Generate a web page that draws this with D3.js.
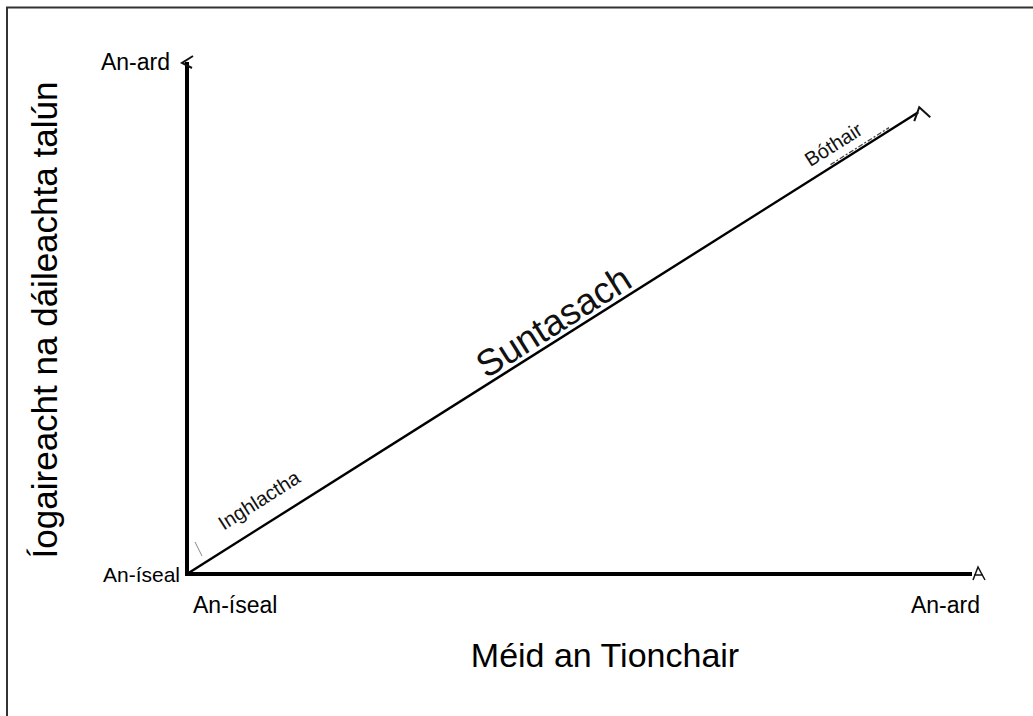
<!DOCTYPE html>
<html>
<head>
<meta charset="utf-8">
<script src="https://cdn.jsdelivr.net/npm/d3@7"></script>
<style>
  body { margin: 0; background: #fff; }
  svg { font-family: "Liberation Sans", Arial, sans-serif; }
</style>
</head>
<body>
<svg id="chart" width="1033" height="716"></svg>
<script>
// values of the sketch, in unit space (0 = An-íseal, 1 = An-ard)
const levelLabels = ["An-íseal", "An-ard"];
const trendLine = [[0, 0], [0.928, 0.902]];
const zoneLabels = ["Inghlactha", "Suntasach", "Bóthair"];
const zonePos = [0.116, 0.514, 0.897];   // share of the way along the trend line
const scribble = [0.88, 0.96];           // dashed pencil mark on the line
const xTitle = "Méid an Tionchair";
const yTitle = "Íogaireacht na dáileachta talún";

const svg = d3.select("#chart");
const x = d3.scaleLinear().domain([0, 1]).range([187, 975]);
const y = d3.scaleLinear().domain([0, 1]).range([574, 62]);

// frame (only top and left show in the picture)
svg.append("path")
    .attr("d", "M7,1000 V7.5 H1040")
    .attr("fill", "none").attr("stroke", "#333").attr("stroke-width", 2);

// axes
const g = svg.append("g");
g.append("line")
    .attr("x1", x(0)).attr("x2", x(0))
    .attr("y1", y(0) + 2).attr("y2", y(1))
    .attr("stroke", "#000").attr("stroke-width", 4);
g.append("line")
    .attr("x1", x(0) - 2).attr("x2", x(1) - 3)
    .attr("y1", y(0)).attr("y2", y(0))
    .attr("stroke", "#000").attr("stroke-width", 4);

// little hand-drawn arrowheads
g.append("path")
    .attr("d", `M${x(0) + 6},${y(1) - 6} L${x(0) - 5},${y(1) + 1} L${x(0) + 5},${y(1) + 6}`)
    .attr("fill", "none").attr("stroke", "#111").attr("stroke-width", 2);
g.append("path")
    .attr("d", `M${x(1) - 2},${y(0) + 6} L${x(1) + 3},${y(0) - 7} L${x(1) + 10},${y(0) + 6} M${x(1) - 1},${y(0) + 1} H${x(1) + 8}`)
    .attr("fill", "none").attr("stroke", "#111").attr("stroke-width", 1.5);

// trend line
const line = d3.line().x(d => x(d[0])).y(d => y(d[1]));
const at = t => [trendLine[1][0] * t, trendLine[1][1] * t];
g.append("path")
    .attr("d", line(trendLine))
    .attr("fill", "none").attr("stroke", "#000").attr("stroke-width", 2.4);
const end = trendLine[1];
g.append("path")
    .attr("d", `M${x(end[0]) - 4},${y(end[1]) + 9} L${x(end[0]) + 1},${y(end[1]) - 5} L${x(end[0]) + 12},${y(end[1]) + 5}`)
    .attr("fill", "none").attr("stroke", "#111").attr("stroke-width", 2);

// grey scribbles
g.append("line")
    .attr("x1", 195).attr("y1", 542).attr("x2", 202).attr("y2", 556)
    .attr("stroke", "#888").attr("stroke-width", 1);
g.append("path")
    .attr("d", line(scribble.map(at)))
    .attr("transform", "translate(0,-3)")
    .attr("fill", "none").attr("stroke", "#444").attr("stroke-width", 1.3)
    .attr("stroke-dasharray", "5,2,2,2");

// angle of the trend line on screen
const ang = Math.atan2(y(end[1]) - y(0), x(end[0]) - x(0)) * 180 / Math.PI;
const offsets = [17, 5, 11];
const sizes = [20, 37, 20];
zoneLabels.forEach((t, i) => {
    const p = at(zonePos[i]);
    g.append("text")
        .attr("transform", `translate(${x(p[0])},${y(p[1])}) rotate(${ang}) translate(0,${-offsets[i]})`)
        .attr("text-anchor", "middle")
        .attr("font-size", sizes[i])
        .attr("fill", "#111")
        .text(t);
});

// level labels
g.append("text").attr("x", x(0) - 17).attr("y", y(1) + 8)
    .attr("text-anchor", "end").attr("font-size", 23).text(levelLabels[1]);
g.append("text").attr("x", x(0) - 7).attr("y", y(0) + 8)
    .attr("text-anchor", "end").attr("font-size", 21).text(levelLabels[0]);
g.append("text").attr("x", x(0) + 6).attr("y", y(0) + 39)
    .attr("font-size", 23).text(levelLabels[0]);
g.append("text").attr("x", x(1) + 5).attr("y", y(0) + 39)
    .attr("text-anchor", "end").attr("font-size", 23).text(levelLabels[1]);

// axis titles
svg.append("text")
    .attr("x", 605).attr("y", 667)
    .attr("text-anchor", "middle").attr("font-size", 34)
    .text(xTitle);
svg.append("text")
    .attr("transform", "translate(57,320) rotate(-90)")
    .attr("text-anchor", "middle").attr("font-size", 35)
    .text(yTitle);
</script>
</body>
</html>
